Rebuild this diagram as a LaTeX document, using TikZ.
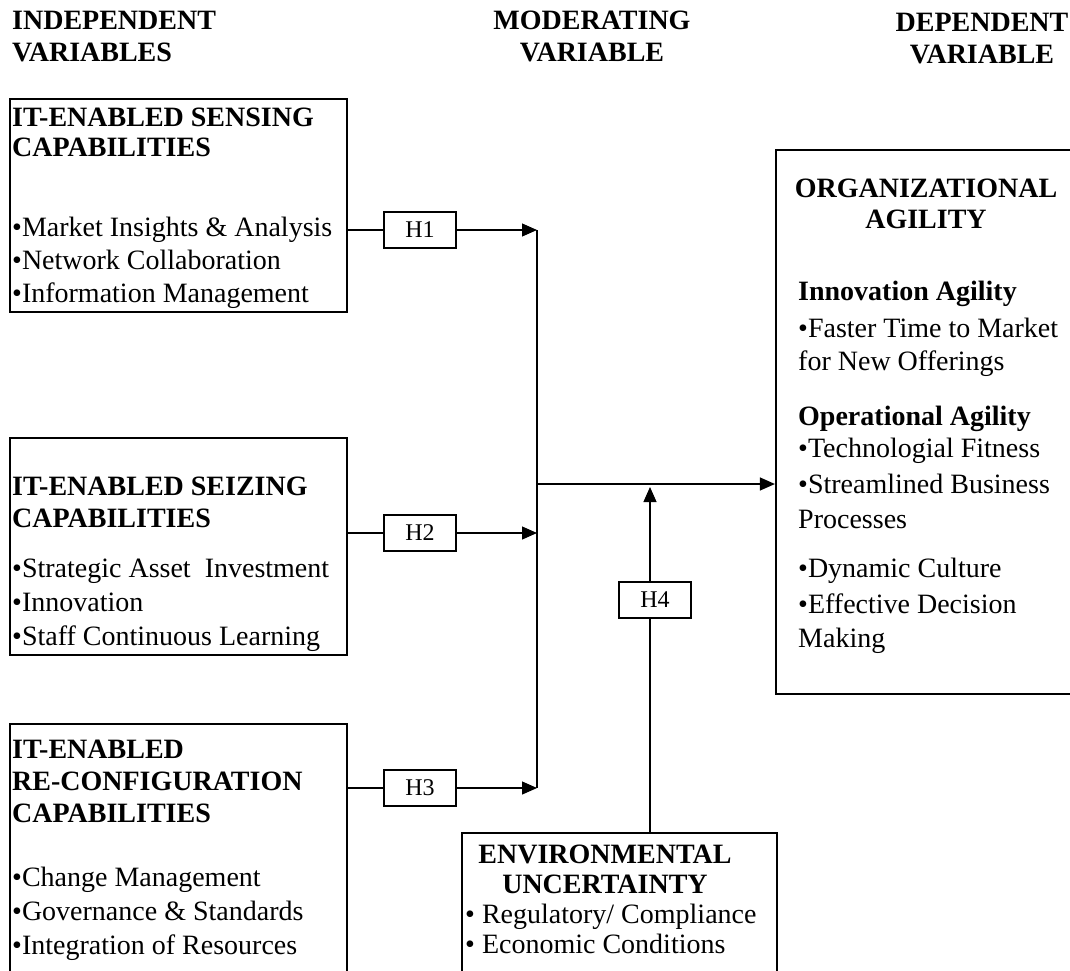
\documentclass[tikz,border=0pt]{standalone}
\usepackage{fontspec}
\setmainfont{Liberation Serif}
\usetikzlibrary{arrows.meta, positioning}

\begin{document}
\begin{tikzpicture}[x=1pt, y=-1pt,
    frame/.style={draw, line width=2.2pt, inner sep=0pt},
    hbox/.style={draw, line width=1.8pt, minimum width=72pt, minimum height=36pt, inner sep=0pt, font=\fontsize{24}{28}\selectfont},
    line/.style={line width=1.2pt},
    arr/.style={line, -{Triangle[length=15pt, width=13pt]}},
    txt/.style={anchor=base west, inner sep=0pt, font=\fontsize{28}{33}\selectfont},
    hd/.style={txt, font=\bfseries\fontsize{28}{33}\selectfont}]
    \clip (0,0) rectangle (1070,971);

    % column titles
    \node[hd] (indep1) at (12,30) {INDEPENDENT};
    \node[hd] (indep2) at (12,62) {VARIABLES};
    \node[hd, anchor=base] (moder1) at (592,30) {MODERATING};
    \node[hd, anchor=base] (moder2) at (592,62) {VARIABLE};
    \node[hd, anchor=base] (depen1) at (982,32) {DEPENDENT};
    \node[hd, anchor=base] (depen2) at (982,64) {VARIABLE};

    % sensing
    \node[frame, minimum width=337pt, minimum height=213pt] (sense) at (178.5,205.5) {};
    \foreach \y/\t [count=\k] in {126/IT-ENABLED SENSING, 157/CAPABILITIES}
        \node[hd] (senseh\k) at (12,\y) {\t};
    \foreach \t [count=\k] in {Market Insights \& Analysis, Network Collaboration, Information Management}
        \node[txt] (sense\k) at (12,203+33*\k) {•\t};

    % seizing
    \node[frame, minimum width=337pt, minimum height=217pt] (seize) at (178.5,546.5) {};
    \foreach \y/\t [count=\k] in {495/IT-ENABLED SEIZING, 527/CAPABILITIES}
        \node[hd] (seizeh\k) at (12,\y) {\t};
    \foreach \t [count=\k] in {Strategic Asset\ \ Investment, Innovation, Staff Continuous Learning}
        \node[txt] (seize\k) at (12,543+34*\k) {•\t};

    % re-configuration
    \node[frame, minimum width=337pt, minimum height=300pt] (reconf) at (178.5,874) {};
    \foreach \y/\t [count=\k] in {758/IT-ENABLED, 790/RE-CONFIGURATION, 822/CAPABILITIES}
        \node[hd] (reconfh\k) at (12,\y) {\t};
    \foreach \t [count=\k] in {Change Management, Governance \& Standards, Integration of Resources}
        \node[txt] (reconf\k) at (12,852+34*\k) {•\t};

    % environmental uncertainty
    \node[frame, minimum width=315pt, minimum height=200pt] (env) at (619.5,933) {};
    \node[hd, anchor=base] (envh1) at (605,863) {ENVIRONMENTAL};
    \node[hd, anchor=base] (envh2) at (605,893) {UNCERTAINTY};
    \node[txt] (env1) at (465,923) {• Regulatory/ Compliance};
    \node[txt] (env2) at (465,953) {• Economic Conditions};

    % organizational agility
    \node[frame, minimum width=300pt, minimum height=544pt] (org) at (926,422) {};
    \node[hd, anchor=base] (orgh1) at (926,197) {ORGANIZATIONAL};
    \node[hd, anchor=base] (orgh2) at (926,228) {AGILITY};
    \node[hd] (orgs1) at (798,300) {Innovation Agility};
    \node[hd] (orgs2) at (798,425) {Operational Agility};
    \foreach \y/\t [count=\k] in {337/•Faster Time to Market, 370/for New Offerings,
        457/•Technologial Fitness, 493/•Streamlined Business, 528/Processes,
        577/•Dynamic Culture, 613/•Effective Decision, 647/Making}
        \node[txt] (org\k) at (798,\y) {\t};

    % hypotheses
    \node[hbox] (h1) at (420,230) {H1};
    \node[hbox] (h2) at (420,533) {H2};
    \node[hbox] (h3) at (420,788) {H3};
    \node[hbox] (h4) at (655,600) {H4};

    \coordinate (bus1) at (537,230);
    \coordinate (bus2) at (537,533);
    \coordinate (bus3) at (537,788);
    \coordinate (busm) at (537,484);
    \coordinate (mod) at (650,487);

    % connectors
    \draw[line] (h1.west -| sense.east) -- (h1.west);
    \draw[line] (h2.west -| seize.east) -- (h2.west);
    \draw[line] (h3.west -| reconf.east) -- (h3.west);
    \draw[arr] (h1.east) -- (bus1);
    \draw[arr] (h2.east) -- (bus2);
    \draw[arr] (h3.east) -- (bus3);
    \draw[line] (bus1) -- (bus3);
    \draw[arr] (busm) -- (busm -| org.west);
    \draw[line] (mod |- env.north) -- (mod |- h4.south);
    \draw[arr] (mod |- h4.north) -- (mod);
\end{tikzpicture}
\end{document}
